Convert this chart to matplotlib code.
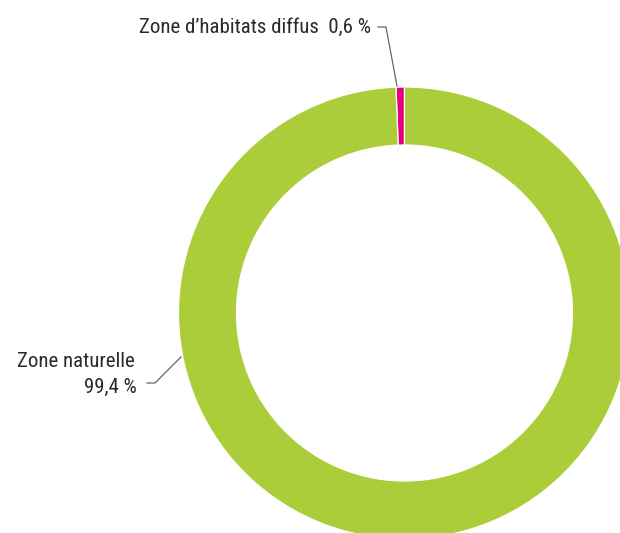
import matplotlib
matplotlib.use("Agg")
import matplotlib.pyplot as plt
from matplotlib import font_manager

# Land-use shares (percent)
categories = ["Zone d\u2019habitats diffus", "Zone naturelle"]
shares = [0.6, 99.4]
share_labels = ["0,6 %", "99,4 %"]
colors = ["#e5007e", "#abcd39"]

available = {f.name for f in font_manager.fontManager.ttflist}
family = "DejaVu Sans"
for cand in ["Roboto Condensed", "Liberation Sans Narrow", "DejaVu Sans Condensed",
             "Open Sans Condensed", "Noto Sans Condensed"]:
    if cand in available:
        family = cand
        break

W, H = 620, 533
fig = plt.figure(figsize=(W / 100, H / 100), dpi=100)
ax = fig.add_axes([0, 0, 1, 1])

cx, cy = 404.5, H - 313
R_out, R_in = 226, 168
ax.pie(shares, colors=colors, startangle=90, counterclock=True,
       center=(cx, cy), radius=R_out,
       wedgeprops=dict(width=R_out - R_in, edgecolor="white", linewidth=0.9))
ax.set_xlim(0, W)
ax.set_ylim(0, H)
ax.set_aspect("equal")
ax.axis("off")

txt = dict(color="#2a2a2a", fontsize=15, family=family)
line = dict(color="#5f6878", linewidth=0.9)

# small slice label at the top
ax.text(371, H - 33, f"{categories[0]}  {share_labels[0]}", ha="right", va="baseline", **txt)
ax.plot([378, 386, 397], [H - 27, H - 27, H - 86], **line)

# large slice label on the left
ax.text(135, H - 367, categories[1], ha="right", va="baseline", **txt)
ax.text(137, H - 393, share_labels[1], ha="right", va="baseline", **txt)
ax.plot([147, 155, 181], [H - 383, H - 383, H - 357], **line)

fig.savefig("out.png", dpi=100)
